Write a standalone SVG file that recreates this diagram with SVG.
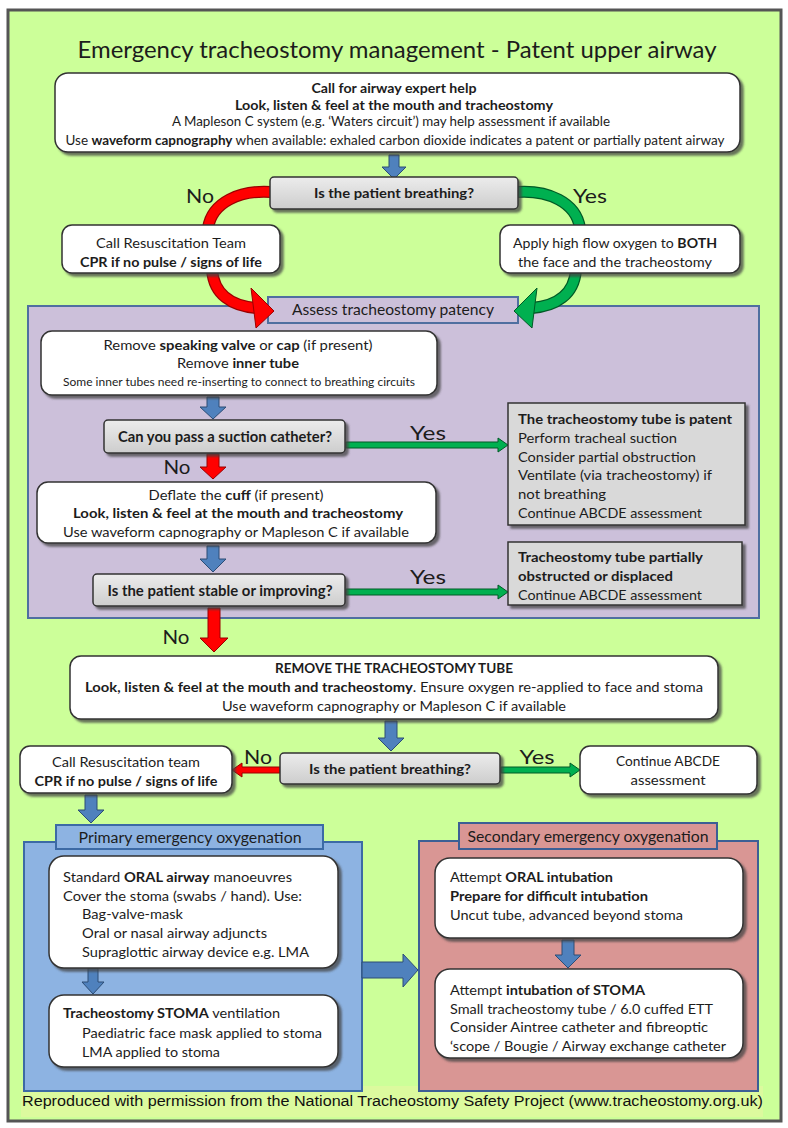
<svg xmlns="http://www.w3.org/2000/svg" width="788" height="1128" viewBox="0 0 788 1128">
<defs>
<style>
.t{font-family:Lato,"Liberation Sans",sans-serif;fill:#1c1c1c;font-size:14px}
.c{text-anchor:middle}
.b{font-weight:bold}
.s{font-size:12.5px}
.lab{font-size:20px}
.box{fill:#fff;stroke:#333;stroke-width:1.5;filter:url(#sh)}
.dec{fill:url(#gg);stroke:#333;stroke-width:1.5;filter:url(#sh)}
.info{fill:#d9d9d9;stroke:#333;stroke-width:1.5;filter:url(#sh)}
.ba{fill:#4f81bd;stroke:#2c4d75;stroke-width:1}
.ra{fill:#ff0000;stroke:#9a0000;stroke-width:1}
.ga{fill:#00b050;stroke:#005a26;stroke-width:1}
.pur{fill:#ccc0da;stroke:#4f6fa0;stroke-width:2}
.blu{fill:#8db3e2;stroke:#3c6aa5;stroke-width:2}
.pink{fill:#d99694;stroke:#3c5f95;stroke-width:2}
</style>
<linearGradient id="gg" x1="0" y1="0" x2="0" y2="1"><stop offset="0" stop-color="#ececec"/><stop offset="1" stop-color="#cdcdcd"/></linearGradient>
<filter id="sh" x="-5%" y="-10%" width="115%" height="130%"><feDropShadow dx="3" dy="3" stdDeviation="1.2" flood-color="#444" flood-opacity="0.75"/></filter>
</defs>

<rect x="8" y="10" width="773" height="1111" fill="#ccff99" stroke="#555" stroke-width="3"/>
<rect x="21" y="1086" width="742" height="31" fill="#dcfa9e"/>
<text class="t" x="397" y="58" text-anchor="middle" style="font-size:24px" textLength="639" lengthAdjust="spacingAndGlyphs">Emergency tracheostomy management - Patent upper airway</text>

<g id="panel-assess">
<rect class="pur" x="28" y="306" width="731" height="312"/>
<rect class="pur" x="268" y="297" width="250" height="26"/>
<text class="t c" x="393" y="315" style="font-size:15px" textLength="202" lengthAdjust="spacingAndGlyphs">Assess  tracheostomy patency</text>
</g>
<g id="panel-primary">
<rect class="blu" x="24" y="842" width="338" height="249"/>
<rect class="blu" x="56" y="825" width="267" height="24"/>
<text class="t c" x="190" y="843" style="font-size:15.5px" textLength="223" lengthAdjust="spacingAndGlyphs">Primary emergency oxygenation</text>
</g>
<g id="panel-secondary">
<rect class="pink" x="419" y="841" width="339" height="250"/>
<rect class="pink" x="459" y="823" width="258" height="26"/>
<text class="t c" x="588" y="842" style="font-size:15.5px" textLength="241" lengthAdjust="spacingAndGlyphs">Secondary emergency oxygenation</text>
</g>

<g id="connectors">
<path d="M271 192 C240 190 212 202 208 228" fill="none" stroke="#9a0000" stroke-width="12"/>
<path d="M271 192 C240 190 212 202 208 228" fill="none" stroke="#ff0000" stroke-width="9.5"/>
<path d="M212 270 C214 295 232 306 256 308" fill="none" stroke="#9a0000" stroke-width="12"/>
<path d="M212 270 C214 295 232 306 256 308" fill="none" stroke="#ff0000" stroke-width="9.5"/>
<polygon class="ra" points="251,288 274,311 256,328"/>
<path d="M517 192 C548 190 576 202 580 228" fill="none" stroke="#005a26" stroke-width="12"/>
<path d="M517 192 C548 190 576 202 580 228" fill="none" stroke="#00b050" stroke-width="9.5"/>
<path d="M576 270 C574 295 556 306 532 308" fill="none" stroke="#005a26" stroke-width="12"/>
<path d="M576 270 C574 295 556 306 532 308" fill="none" stroke="#00b050" stroke-width="9.5"/>
<polygon class="ga" points="537,288 514,311 532,328"/>
<path class="ba" d="M389 155 H399 V167 H406 L394 179 L382 167 H389 Z"/>
<path class="ba" d="M207 397 H219 V407 H226 L213 419 L200 407 H207 Z"/>
<path class="ba" d="M207 546 H219 V559 H226 L213 572 L200 559 H207 Z"/>
<path class="ba" d="M385 721 H397 V738 H404 L391 751 L378 738 H385 Z"/>
<path class="ba" d="M85 795 H97 V810 H104 L91 823 L78 810 H85 Z"/>
<path class="ba" d="M88 968 H98 V982 H104 L93 994 L82 982 H88 Z"/>
<path class="ba" d="M562 940 H574 V955 H581 L568 968 L555 955 H562 Z"/>
<path class="ba" d="M362 962 H403 V954 L418 970 L403 987 V978 H362 Z"/>
<path class="ra" d="M207 454 H219 V467 H226 L213 479 L200 467 H207 Z"/>
<path class="ra" d="M208 608 H220 V638 H228 L214 652 L200 638 H208 Z"/>
<path class="ga" d="M346 442 H498 V438 L508 445 L498 452 V448 H346 Z"/>
<path class="ga" d="M346 589 H498 V585 L508 592 L498 599 V595 H346 Z"/>
<path class="ga" d="M501 767 H570 V763 L580 770 L570 777 V773 H501 Z"/>
<path class="ra" d="M280 767 H242 V763 L232 770 L242 777 V773 H280 Z"/>
<text class="t lab c" x="200" y="203" textLength="28" lengthAdjust="spacingAndGlyphs">No</text>
<text class="t lab c" x="590" y="203" textLength="34" lengthAdjust="spacingAndGlyphs">Yes</text>
<text class="t lab c" x="428" y="440" textLength="36" lengthAdjust="spacingAndGlyphs">Yes</text>
<text class="t lab c" x="177" y="474" textLength="27" lengthAdjust="spacingAndGlyphs">No</text>
<text class="t lab c" x="428" y="584" textLength="36" lengthAdjust="spacingAndGlyphs">Yes</text>
<text class="t lab c" x="176" y="644" textLength="27" lengthAdjust="spacingAndGlyphs">No</text>
<text class="t lab c" x="258" y="764" textLength="28" lengthAdjust="spacingAndGlyphs">No</text>
<text class="t lab c" x="537" y="764" textLength="35" lengthAdjust="spacingAndGlyphs">Yes</text>
</g>

<g id="n-help">
<rect class="box" x="55" y="73" width="685" height="79" rx="13"/>
<text class="t c b" x="394" y="93" textLength="165" lengthAdjust="spacingAndGlyphs">Call for airway expert help</text>
<text class="t c b" x="394" y="110" textLength="318" lengthAdjust="spacingAndGlyphs">Look, listen &amp; feel at the mouth and tracheostomy</text>
<text class="t c s" x="391" y="126" textLength="438" lengthAdjust="spacingAndGlyphs">A Mapleson C system (e.g. ‘Waters circuit’) may help assessment if available</text>
<text class="t c" x="395" y="145" style="font-size:13px" textLength="659" lengthAdjust="spacingAndGlyphs">Use <tspan class="b">waveform capnography</tspan> when available:  exhaled carbon dioxide indicates a patent or partially patent airway</text>
</g>

<g id="n-breathing1">
<rect class="dec" x="270" y="177" width="248" height="32" rx="4"/>
<text class="t c b" x="394" y="198" textLength="160" lengthAdjust="spacingAndGlyphs">Is the patient breathing?</text>
</g>

<g id="n-resus1">
<rect class="box" x="62" y="225" width="218" height="48" rx="10"/>
<text class="t c" x="171" y="248" textLength="150" lengthAdjust="spacingAndGlyphs">Call Resuscitation Team</text>
<text class="t c b" x="171" y="267" textLength="182" lengthAdjust="spacingAndGlyphs">CPR if no pulse / signs of life</text>
</g>

<g id="n-oxygen">
<rect class="box" x="500" y="225" width="240" height="48" rx="10"/>
<text class="t c" x="615" y="248" textLength="204" lengthAdjust="spacingAndGlyphs">Apply high flow oxygen to <tspan class="b">BOTH</tspan></text>
<text class="t c" x="615" y="267" textLength="194" lengthAdjust="spacingAndGlyphs">the face and the tracheostomy</text>
</g>

<g id="n-remove-valve">
<rect class="box" x="41" y="331" width="396" height="64" rx="11"/>
<text class="t c" x="238" y="350" textLength="269" lengthAdjust="spacingAndGlyphs">Remove <tspan class="b">speaking valve</tspan> or <tspan class="b">cap</tspan> (if present)</text>
<text class="t c" x="238" y="368" textLength="122" lengthAdjust="spacingAndGlyphs">Remove <tspan class="b">inner tube</tspan></text>
<text class="t c" x="239" y="386" style="font-size:11.5px" textLength="352" lengthAdjust="spacingAndGlyphs">Some inner tubes need re-inserting to connect to breathing circuits</text>
</g>

<g id="n-suction">
<rect class="dec" x="104" y="420" width="241" height="33" rx="4"/>
<text class="t c b" x="225" y="442" style="font-size:15px" textLength="214" lengthAdjust="spacingAndGlyphs">Can you pass a suction catheter?</text>
</g>

<g id="n-patent">
<rect class="info" x="508" y="403" width="237" height="122"/>
<text class="t b" x="518" y="424" textLength="214" lengthAdjust="spacingAndGlyphs">The tracheostomy tube is patent</text>
<text class="t" x="518" y="443" textLength="159" lengthAdjust="spacingAndGlyphs">Perform tracheal suction</text>
<text class="t" x="518" y="462" textLength="178" lengthAdjust="spacingAndGlyphs">Consider partial obstruction</text>
<text class="t" x="518" y="480" textLength="194" lengthAdjust="spacingAndGlyphs">Ventilate (via tracheostomy) if</text>
<text class="t" x="518" y="499" textLength="88" lengthAdjust="spacingAndGlyphs">not breathing</text>
<text class="t" x="518" y="518" textLength="184" lengthAdjust="spacingAndGlyphs">Continue ABCDE assessment</text>
</g>

<g id="n-deflate">
<rect class="box" x="37" y="482" width="399" height="61" rx="11"/>
<text class="t c" x="236" y="500" textLength="175" lengthAdjust="spacingAndGlyphs">Deflate the <tspan class="b">cuff</tspan> (if present)</text>
<text class="t c b" x="238" y="518" textLength="330" lengthAdjust="spacingAndGlyphs">Look, listen &amp; feel at the mouth and tracheostomy</text>
<text class="t c" x="236" y="537" textLength="346" lengthAdjust="spacingAndGlyphs">Use waveform capnography or Mapleson C if available</text>
</g>

<g id="n-stable">
<rect class="dec" x="93" y="574" width="252" height="32" rx="4"/>
<text class="t c b" x="220" y="596" style="font-size:15px" textLength="225" lengthAdjust="spacingAndGlyphs">Is the patient stable or improving?</text>
</g>

<g id="n-partial">
<rect class="info" x="508" y="542" width="234" height="63"/>
<text class="t b" x="518" y="562" textLength="185" lengthAdjust="spacingAndGlyphs">Tracheostomy tube partially</text>
<text class="t b" x="518" y="581" textLength="155" lengthAdjust="spacingAndGlyphs">obstructed or displaced</text>
<text class="t" x="518" y="600" textLength="184" lengthAdjust="spacingAndGlyphs">Continue ABCDE assessment</text>
</g>

<g id="n-remove-tube">
<rect class="box" x="70" y="656" width="648" height="63" rx="11"/>
<text class="t c b" x="394" y="673" style="font-size:13.5px" textLength="238" lengthAdjust="spacingAndGlyphs">REMOVE THE TRACHEOSTOMY TUBE</text>
<text class="t c" x="394" y="692" textLength="618" lengthAdjust="spacingAndGlyphs"><tspan class="b">Look, listen &amp; feel at the mouth and tracheostomy</tspan>. Ensure oxygen re-applied to face and stoma</text>
<text class="t c" x="394" y="711" textLength="344" lengthAdjust="spacingAndGlyphs">Use waveform capnography or Mapleson C if available</text>
</g>

<g id="n-breathing2">
<rect class="dec" x="280" y="753" width="220" height="31" rx="4"/>
<text class="t c b" x="390" y="774" textLength="162" lengthAdjust="spacingAndGlyphs">Is the patient breathing?</text>
</g>

<g id="n-resus2">
<rect class="box" x="20" y="746" width="212" height="47" rx="10"/>
<text class="t c" x="126" y="767" textLength="148" lengthAdjust="spacingAndGlyphs">Call Resuscitation team</text>
<text class="t c b" x="126" y="786" textLength="183" lengthAdjust="spacingAndGlyphs">CPR if no pulse / signs of life</text>
</g>

<g id="n-continue">
<rect class="box" x="580" y="746" width="177" height="48" rx="10"/>
<text class="t c" x="668" y="766" textLength="104" lengthAdjust="spacingAndGlyphs">Continue ABCDE</text>
<text class="t c" x="668" y="785" textLength="75" lengthAdjust="spacingAndGlyphs">assessment</text>
</g>

<g id="n-oral-airway">
<rect class="box" x="49" y="856" width="289" height="112" rx="15"/>
<text class="t" x="63" y="882" textLength="229" lengthAdjust="spacingAndGlyphs">Standard <tspan class="b">ORAL airway</tspan> manoeuvres</text>
<text class="t" x="63" y="901" textLength="239" lengthAdjust="spacingAndGlyphs">Cover the stoma (swabs / hand). Use:</text>
<text class="t" x="82" y="919" textLength="101" lengthAdjust="spacingAndGlyphs">Bag-valve-mask</text>
<text class="t" x="82" y="938" textLength="185" lengthAdjust="spacingAndGlyphs">Oral or nasal airway adjuncts</text>
<text class="t" x="82" y="957" textLength="227" lengthAdjust="spacingAndGlyphs">Supraglottic airway device e.g. LMA</text>
</g>

<g id="n-stoma-vent">
<rect class="box" x="49" y="995" width="289" height="72" rx="15"/>
<text class="t" x="63" y="1018" textLength="217" lengthAdjust="spacingAndGlyphs"><tspan class="b">Tracheostomy STOMA</tspan> ventilation</text>
<text class="t" x="82" y="1038" textLength="240" lengthAdjust="spacingAndGlyphs">Paediatric face mask applied to stoma</text>
<text class="t" x="82" y="1057" textLength="138" lengthAdjust="spacingAndGlyphs">LMA applied to stoma</text>
</g>

<g id="n-oral-intubation">
<rect class="box" x="435" y="858" width="308" height="80" rx="15"/>
<text class="t" x="450" y="882" textLength="163" lengthAdjust="spacingAndGlyphs">Attempt <tspan class="b">ORAL intubation</tspan></text>
<text class="t b" x="450" y="901" textLength="198" lengthAdjust="spacingAndGlyphs">Prepare for difficult intubation</text>
<text class="t" x="450" y="920" textLength="233" lengthAdjust="spacingAndGlyphs">Uncut tube, advanced beyond stoma</text>
</g>

<g id="n-stoma-intubation">
<rect class="box" x="435" y="969" width="308" height="89" rx="15"/>
<text class="t" x="450" y="995" textLength="195" lengthAdjust="spacingAndGlyphs">Attempt <tspan class="b">intubation of STOMA</tspan></text>
<text class="t" x="450" y="1014" textLength="263" lengthAdjust="spacingAndGlyphs">Small tracheostomy tube / 6.0 cuffed ETT</text>
<text class="t" x="450" y="1032" textLength="258" lengthAdjust="spacingAndGlyphs">Consider Aintree catheter and fibreoptic</text>
<text class="t" x="450" y="1051" textLength="276" lengthAdjust="spacingAndGlyphs">‘scope / Bougie / Airway exchange catheter</text>
</g>

<text x="22" y="1106" font-family="'Liberation Sans',Arial,sans-serif" font-size="15.5" fill="#111" textLength="741" lengthAdjust="spacingAndGlyphs">Reproduced with permission from the National Tracheostomy Safety Project (www.tracheostomy.org.uk)</text>
</svg>
